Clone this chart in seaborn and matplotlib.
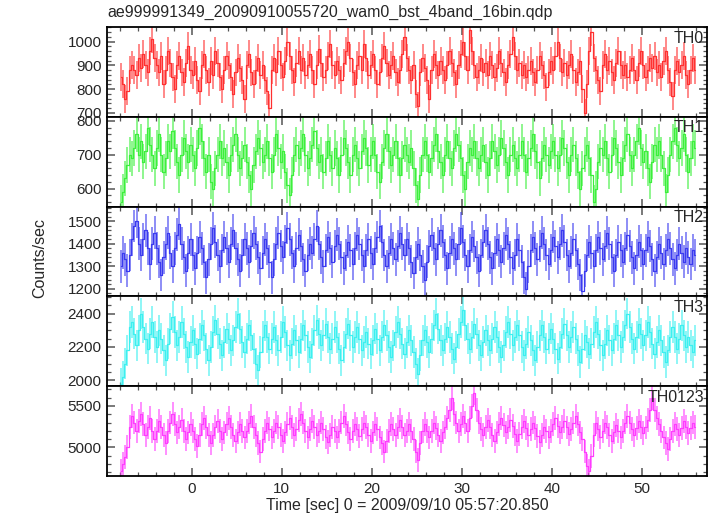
import numpy as np
import matplotlib
matplotlib.use('Agg')
from matplotlib import pyplot as plt
from matplotlib.ticker import MultipleLocator
import seaborn as sns

# %% Data: count rates per 0.25 s bin
t_start = -7.875
bin_width = 0.25

th0 = [850, 820, 760, 790, 880, 900, 880, 860, 930, 890, 950, 900, 870, 960, 1010, 930,
       900, 870, 940, 820, 880, 960, 910, 850, 800, 900, 940, 870, 830, 910, 980, 880,
       860, 920, 840, 790, 900, 950, 880, 830, 920, 860, 960, 910, 850, 800, 880, 940,
       900, 850, 780, 870, 930, 890, 840, 760, 900, 950, 870, 820, 880, 930, 860, 900,
       840, 790, 720, 880, 930, 870, 960, 900, 850, 920, 1000, 940, 880, 830, 910, 960,
       880, 930, 860, 900, 950, 880, 820, 900, 970, 910, 850, 880, 940, 990, 900, 860,
       920, 880, 840, 910, 960, 1000, 930, 870, 820, 900, 940, 880, 990, 930, 860, 900,
       950, 880, 820, 870, 930, 980, 910, 860, 900, 940, 870, 830, 880, 950, 1020, 930,
       880, 840, 900, 780, 730, 870, 930, 890, 840, 760, 880, 950, 900, 860, 920, 880,
       840, 900, 960, 910, 870, 820, 900, 950, 1000, 940, 880, 1050, 960, 900, 850, 880,
       930, 870, 910, 860, 940, 900, 850, 890, 960, 910, 870, 830, 900, 950, 1020, 940,
       880, 910, 860, 900, 850, 880, 920, 870, 830, 880, 940, 900, 860, 810, 870, 920,
       880, 940, 1000, 930, 870, 910, 860, 900, 950, 880, 830, 870, 920, 800, 700, 820,
       960, 1040, 930, 880, 840, 790, 900, 950, 880, 920, 870, 840, 910, 960, 900, 860,
       900, 850, 880, 930, 880, 840, 910, 960, 900, 850, 880, 930, 890, 940, 870, 900,
       850, 920, 960, 880, 830, 770, 880, 920, 870, 900, 940, 860, 820, 880, 930, 880]

th1 = [560, 590, 630, 670, 700, 690, 720, 760, 700, 740, 680, 710, 780, 730, 700, 660,
       720, 760, 700, 650, 690, 740, 710, 770, 720, 680, 640, 700, 750, 710, 680, 730,
       700, 660, 720, 780, 740, 690, 650, 700, 620, 600, 660, 700, 740, 690, 720, 680,
       640, 700, 730, 760, 700, 660, 690, 730, 680, 640, 600, 670, 710, 750, 720, 680,
       700, 740, 690, 650, 700, 760, 720, 680, 710, 650, 610, 580, 640, 700, 730, 690,
       720, 760, 700, 660, 690, 730, 770, 720, 680, 700, 650, 690, 740, 700, 660, 720,
       690, 640, 700, 750, 720, 680, 640, 700, 730, 690, 660, 710, 750, 720, 670, 700,
       740, 700, 650, 620, 680, 720, 760, 710, 670, 700, 740, 690, 640, 690, 730, 700,
       680, 720, 660, 610, 570, 640, 700, 740, 700, 650, 690, 730, 760, 710, 680, 640,
       700, 740, 690, 660, 720, 760, 730, 690, 640, 600, 680, 720, 700, 740, 690, 660,
       700, 730, 680, 640, 690, 740, 710, 670, 700, 750, 720, 680, 640, 700, 730, 690,
       660, 700, 740, 700, 650, 690, 720, 760, 710, 680, 630, 690, 730, 700, 670, 710,
       740, 700, 660, 700, 750, 720, 680, 640, 700, 730, 690, 650, 600, 660, 700, 730,
       690, 640, 560, 600, 680, 720, 700, 740, 690, 650, 700, 750, 720, 680, 640, 690,
       730, 760, 700, 660, 700, 740, 780, 720, 680, 710, 660, 620, 680, 730, 700, 740,
       700, 660, 590, 640, 700, 740, 780, 730, 690, 720, 760, 700, 650, 690, 740, 720]

th2 = [1300, 1360, 1330, 1280, 1350, 1420, 1480, 1500, 1400, 1350, 1420, 1460, 1380, 1310, 1400, 1450,
       1380, 1320, 1260, 1340, 1400, 1450, 1360, 1300, 1380, 1440, 1490, 1400, 1340, 1280, 1360, 1420,
       1350, 1290, 1360, 1430, 1380, 1320, 1250, 1330, 1400, 1470, 1410, 1350, 1300, 1370, 1430, 1380,
       1320, 1400, 1460, 1380, 1330, 1280, 1350, 1420, 1380, 1320, 1390, 1450, 1400, 1340, 1290, 1360,
       1420, 1380, 1320, 1250, 1330, 1400, 1450, 1390, 1340, 1410, 1470, 1420, 1360, 1300, 1380, 1440,
       1390, 1330, 1280, 1350, 1400, 1360, 1420, 1480, 1400, 1340, 1300, 1370, 1430, 1380, 1320, 1390,
       1440, 1400, 1340, 1290, 1350, 1410, 1370, 1310, 1380, 1440, 1400, 1350, 1300, 1370, 1420, 1360,
       1310, 1380, 1430, 1480, 1410, 1350, 1300, 1360, 1420, 1380, 1330, 1390, 1450, 1400, 1350, 1420,
       1380, 1320, 1270, 1340, 1400, 1350, 1300, 1240, 1320, 1390, 1440, 1380, 1330, 1400, 1460, 1410,
       1350, 1290, 1360, 1420, 1380, 1330, 1400, 1470, 1410, 1350, 1300, 1370, 1430, 1390, 1340, 1280,
       1350, 1410, 1460, 1400, 1340, 1290, 1360, 1420, 1370, 1320, 1380, 1440, 1400, 1340, 1290, 1350,
       1420, 1370, 1320, 1250, 1200, 1300, 1370, 1430, 1380, 1330, 1390, 1450, 1400, 1350, 1310, 1370,
       1430, 1390, 1340, 1400, 1460, 1410, 1350, 1300, 1360, 1420, 1370, 1310, 1260, 1190, 1280, 1350,
       1410, 1360, 1300, 1370, 1430, 1380, 1330, 1390, 1450, 1400, 1340, 1280, 1350, 1410, 1370, 1320,
       1380, 1440, 1390, 1340, 1290, 1350, 1410, 1370, 1310, 1370, 1430, 1390, 1330, 1280, 1340, 1400,
       1360, 1310, 1370, 1420, 1380, 1330, 1290, 1350, 1400, 1360, 1320, 1380, 1340, 1310, 1370, 1350]

th3 = [1980, 2020, 2100, 2180, 2320, 2350, 2280, 2210, 2300, 2400, 2320, 2250, 2190, 2280, 2350, 2260,
       2200, 2300, 2250, 2180, 2120, 2220, 2310, 2380, 2290, 2210, 2260, 2350, 2280, 2200, 2140, 2230,
       2300, 2220, 2160, 2250, 2330, 2270, 2190, 2120, 2200, 2290, 2360, 2280, 2220, 2150, 2230, 2310,
       2250, 2180, 2240, 2320, 2400, 2310, 2230, 2170, 2250, 2330, 2270, 2190, 2100, 2060, 2170, 2260,
       2330, 2260, 2190, 2250, 2320, 2240, 2180, 2260, 2350, 2290, 2210, 2150, 2220, 2300, 2240, 2170,
       2250, 2330, 2270, 2200, 2140, 2220, 2300, 2360, 2280, 2210, 2270, 2340, 2260, 2190, 2250, 2320,
       2260, 2190, 2120, 2200, 2280, 2340, 2270, 2200, 2260, 2320, 2250, 2180, 2230, 2290, 2220, 2160,
       2240, 2310, 2250, 2180, 2260, 2330, 2270, 2200, 2140, 2210, 2290, 2350, 2280, 2220, 2160, 2230,
       2300, 2240, 2170, 2100, 2040, 2150, 2240, 2300, 2230, 2170, 2250, 2330, 2400, 2310, 2240, 2180,
       2250, 2320, 2260, 2190, 2130, 2200, 2280, 2350, 2420, 2330, 2250, 2190, 2260, 2340, 2280, 2210,
       2150, 2230, 2300, 2240, 2180, 2250, 2320, 2260, 2200, 2140, 2210, 2290, 2350, 2280, 2210, 2260,
       2330, 2270, 2200, 2150, 2220, 2290, 2240, 2180, 2120, 2200, 2270, 2330, 2260, 2190, 2250, 2310,
       2250, 2190, 2130, 2200, 2280, 2340, 2270, 2200, 2260, 2320, 2250, 2180, 2110, 2190, 2270, 2230,
       2160, 2220, 2290, 2350, 2280, 2210, 2150, 2220, 2300, 2240, 2180, 2250, 2330, 2270, 2200, 2260,
       2330, 2400, 2320, 2250, 2190, 2260, 2340, 2280, 2210, 2270, 2350, 2290, 2220, 2160, 2230, 2300,
       2240, 2170, 2110, 2180, 2260, 2320, 2260, 2190, 2250, 2330, 2270, 2200, 2260, 2210, 2170, 2240]

th0123 = [4720, 4800, 4880, 5000, 5250, 5380, 5300, 5200, 5320, 5400, 5280, 5150, 5250, 5350, 5200, 5100,
          5200, 5320, 5250, 5150, 5050, 5200, 5300, 5400, 5280, 5180, 5250, 5330, 5200, 5100, 5180, 5280,
          5200, 5100, 5020, 5150, 5280, 5350, 5250, 5150, 5050, 5150, 5250, 5320, 5200, 5100, 5180, 5280,
          5350, 5250, 5150, 5080, 5180, 5280, 5200, 5120, 5200, 5300, 5380, 5250, 5150, 5050, 4950, 5100,
          5200, 5300, 5220, 5120, 5200, 5300, 5250, 5150, 5080, 5180, 5280, 5350, 5250, 5150, 5220, 5330,
          5400, 5300, 5200, 5120, 5220, 5320, 5250, 5150, 5200, 5300, 5220, 5130, 5060, 5150, 5250, 5200,
          5120, 5200, 5300, 5380, 5280, 5180, 5100, 5200, 5280, 5220, 5140, 5220, 5300, 5250, 5150, 5080,
          5180, 5280, 5220, 5120, 5050, 4950, 5080, 5200, 5280, 5220, 5150, 5250, 5330, 5250, 5150, 5200,
          5280, 5200, 5100, 4950, 4850, 5050, 5200, 5280, 5200, 5120, 5200, 5300, 5230, 5150, 5080, 5180,
          5250, 5350, 5450, 5600, 5400, 5300, 5200, 5280, 5380, 5300, 5200, 5350, 5500, 5650, 5450, 5300,
          5220, 5150, 5250, 5330, 5250, 5150, 5080, 5180, 5280, 5350, 5270, 5180, 5250, 5330, 5260, 5160,
          5080, 5160, 5250, 5320, 5230, 5150, 5220, 5300, 5230, 5140, 5060, 5150, 5250, 5200, 5120, 5200,
          5280, 5350, 5260, 5180, 5250, 5320, 5240, 5160, 5220, 5300, 5380, 5280, 5180, 5100, 4950, 4780,
          4720, 4900, 5150, 5300, 5220, 5130, 5200, 5300, 5250, 5150, 5080, 5180, 5270, 5200, 5120, 5200,
          5300, 5380, 5300, 5220, 5150, 5230, 5320, 5250, 5170, 5240, 5330, 5450, 5600, 5450, 5350, 5280,
          5200, 5120, 5050, 4980, 5100, 5200, 5280, 5220, 5150, 5230, 5320, 5250, 5170, 5230, 5300, 5250]

band_names = ['TH0', 'TH1', 'TH2', 'TH3', 'TH0123']
band_rates = [th0, th1, th2, th3, th0123]
band_errors = [59, 52, 73, 94, 144]

# %% Styling per panel
colors = ['#ff3030', '#3cf03c', '#3a3af0', '#3cf0f0', '#ff3cff']
ylims = [(683, 1062), (547, 812), (1165, 1566), (1964, 2503), (4655, 5738)]
major = [100, 100, 100, 200, 500]
minor = [20, 20, 20, 50, 100]

sns.set_style('ticks')
plt.rcParams['font.family'] = ['Liberation Sans', 'DejaVu Sans']

fig, axes = plt.subplots(5, 1, figsize=(7.17, 5.16), dpi=100, sharex=True)
fig.subplots_adjust(left=107/717, right=707/717, top=1-27/516, bottom=1-476/516, hspace=0)

for ax, name, rate, err, c, yl, mj, mn in zip(axes, band_names, band_rates, band_errors,
                                              colors, ylims, major, minor):
    rate = np.asarray(rate, dtype=float)
    time = t_start + bin_width * np.arange(len(rate))
    ax.errorbar(time, rate, yerr=err, fmt='none', ecolor=c, alpha=0.62, elinewidth=1.3)
    sns.lineplot(x=time, y=rate, ax=ax, color=c, lw=0.9, drawstyle='steps-mid')
    ax.set_ylim(*yl)
    ax.set_xlim(-9.4, 57.2)
    ax.yaxis.set_major_locator(MultipleLocator(mj))
    ax.yaxis.set_minor_locator(MultipleLocator(mn))
    ax.xaxis.set_major_locator(MultipleLocator(10))
    ax.xaxis.set_minor_locator(MultipleLocator(2))
    ax.tick_params(which='both', direction='in', top=True, right=True, color='#555',
                   labelsize=11, pad=4)
    ax.tick_params(which='major', length=6, width=1.1)
    ax.tick_params(which='minor', length=3, width=0.9)
    for s in ax.spines.values():
        s.set_linewidth(1.3)
        s.set_color('black')
    ax.text(0.995, 0.96, name, transform=ax.transAxes, ha='right', va='top', fontsize=11.5)
    ax.set_ylabel('')

axes[-1].set_xlabel('Time [sec] 0 = 2009/09/10 05:57:20.850', fontsize=11.5, labelpad=2)
fig.text(40/717, 0.5, 'Counts/sec', rotation=90, ha='center', va='center', fontsize=11.5)
fig.text(107/717, 1-12/516, 'ae999991349_20090910055720_wam0_bst_4band_16bin.qdp',
         ha='left', va='center', fontsize=11.5)

plt.savefig('out.png', dpi=100)
plt.close()
